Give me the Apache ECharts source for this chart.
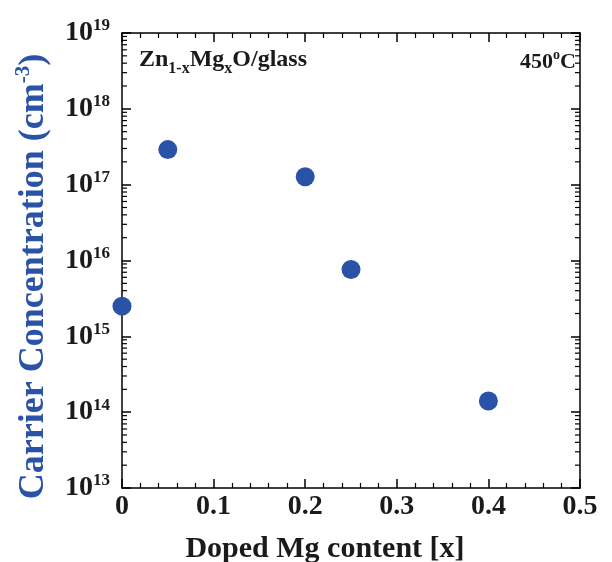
<!DOCTYPE html>
<html><head><meta charset="utf-8">
<script src="https://cdn.jsdelivr.net/npm/echarts@6/dist/echarts.min.js"></script>
<style>html,body{margin:0;padding:0;background:#fff}#c{width:612px;height:562px}</style>
</head><body><div id="c"></div>
<script>
var mgContent = [0, 0.05, 0.2, 0.25, 0.4];
var carrierConc = [2.5e15, 2.9e17, 1.27e17, 7.6e15, 1.4e14];
var xTicks = [0, 0.1, 0.2, 0.3, 0.4, 0.5];
var yExponents = [13, 14, 15, 16, 17, 18, 19];

var FONT = '"Liberation Serif", "Times New Roman", serif';
var BLUE = '#2a52a6';

var points = mgContent.map(function (x, i) { return [x, carrierConc[i]]; });
var minorVals = [];
for (var d = yExponents[0]; d < yExponents[yExponents.length - 1]; d++) {
  for (var k = 2; k <= 9; k++) minorVals.push([0, k * Math.pow(10, d)]);
}

var chart = echarts.init(document.getElementById('c'), null, {renderer: 'canvas'});
var axisLine = {show: true, onZero: false, lineStyle: {color: '#000', width: 1.5}};
var majorTick = {show: true, inside: true, length: 9, lineStyle: {color: '#000', width: 1.5}};
var option = {
  animation: false,
  grid: {left: 122, right: 32, top: 33, bottom: 74, containLabel: false, outerBoundsMode: 'none'},
  xAxis: [{
    type: 'value', min: xTicks[0], max: xTicks[xTicks.length - 1], interval: 0.1,
    axisLine: axisLine, axisTick: majorTick,
    minorTick: {show: true, splitNumber: 5, length: 5, lineStyle: {color: '#000', width: 1.2}},
    splitLine: {show: false},
    axisLabel: {fontFamily: FONT, fontWeight: 'bold', fontSize: 28, color: '#1a1a1a', margin: 5,
      formatter: function (v) { return String(Math.round(v * 10) / 10); }},
    name: 'Doped Mg content [x]', nameLocation: 'middle', nameGap: 46,
    nameTextStyle: {fontFamily: FONT, fontWeight: 'bold', fontSize: 30, color: '#1a1a1a', padding: [0, 52, 0, 0]}
  }, {
    type: 'value', position: 'top', min: xTicks[0], max: xTicks[xTicks.length - 1], interval: 0.1,
    axisLine: axisLine, axisTick: majorTick,
    minorTick: {show: true, splitNumber: 5, length: 5, lineStyle: {color: '#000', width: 1.2}},
    splitLine: {show: false}, axisLabel: {show: false}
  }],
  yAxis: [{
    type: 'log', logBase: 10, min: Math.pow(10, yExponents[0]), max: Math.pow(10, yExponents[yExponents.length - 1]),
    splitNumber: 6,
    axisLine: axisLine, axisTick: majorTick,
    splitLine: {show: false},
    axisLabel: {margin: 12,
      formatter: function (v) { return '{a|10}{b|' + Math.round(Math.log10(v)) + '}'; },
      rich: {
        a: {fontFamily: FONT, fontWeight: 'bold', fontSize: 28, color: '#1a1a1a'},
        b: {fontFamily: FONT, fontWeight: 'bold', fontSize: 17, color: '#1a1a1a', padding: [0, 0, 14, 0]}
      }},
    name: '{t|Carrier Concentration (cm}{s|-3}{t|)}', nameLocation: 'middle', nameGap: 68,
    nameTextStyle: {
      padding: [0, 32, 0, 0],
      rich: {
        t: {fontFamily: FONT, fontWeight: 'bold', fontSize: 36, color: BLUE},
        s: {fontFamily: FONT, fontWeight: 'bold', fontSize: 21, color: BLUE, padding: [0, 0, 20, 0]}
      }
    }
  }, {
    type: 'log', logBase: 10, position: 'right', min: Math.pow(10, yExponents[0]), max: Math.pow(10, yExponents[yExponents.length - 1]),
    splitNumber: 6,
    axisLine: axisLine, axisTick: majorTick,
    splitLine: {show: false}, axisLabel: {show: false}
  }],
  series: [{
    type: 'custom', xAxisIndex: 0, yAxisIndex: 0, silent: true, clip: false,
    data: minorVals,
    renderItem: function (params, api) {
      var pl = api.coord([xTicks[0], api.value(1)]);
      var pr = api.coord([xTicks[xTicks.length - 1], api.value(1)]);
      var st = {stroke: '#000', lineWidth: 1.2};
      return {type: 'group', children: [
        {type: 'line', shape: {x1: pl[0], y1: pl[1], x2: pl[0] + 5, y2: pl[1]}, style: st},
        {type: 'line', shape: {x1: pr[0], y1: pr[1], x2: pr[0] - 5, y2: pr[1]}, style: st}
      ]};
    }
  }, {
    type: 'scatter', xAxisIndex: 0, yAxisIndex: 0, data: points,
    symbol: 'circle', symbolSize: 19, clip: false,
    itemStyle: {color: BLUE, opacity: 1}
  }],
  graphic: [{
    type: 'text', left: 139, top: 48,
    style: {
      text: '{m|Zn}{sub|1-x}{m|Mg}{sub|x}{m|O/glass}',
      rich: {
        m: {fontFamily: FONT, fontWeight: 'bold', fontSize: 24, fill: '#1a1a1a'},
        sub: {fontFamily: FONT, fontWeight: 'bold', fontSize: 16, fill: '#1a1a1a', padding: [18, 0, 0, 0]}
      }
    }
  }, {
    type: 'text', right: 36, top: 48,
    style: {
      text: '{m|450}{sup|o}{m|C}',
      rich: {
        m: {fontFamily: FONT, fontWeight: 'bold', fontSize: 22, fill: '#1a1a1a'},
        sup: {fontFamily: FONT, fontWeight: 'bold', fontSize: 14, fill: '#1a1a1a', padding: [0, 0, 14, 0]}
      }
    }
  }]
};
chart.setOption(option);
</script></body></html>
